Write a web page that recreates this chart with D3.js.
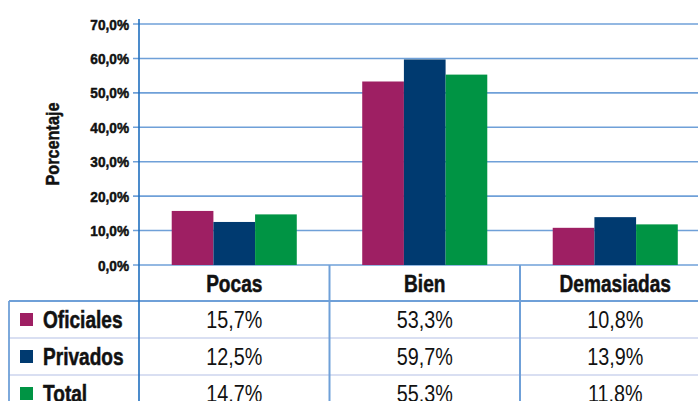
<!DOCTYPE html>
<html>
<head>
<meta charset="utf-8">
<script src="https://cdn.jsdelivr.net/npm/d3@7"></script>
<style>
  body { margin: 0; background: #fff; }
  svg text { font-family: "Liberation Sans", Arial, Helvetica, sans-serif; fill: #111; }
  svg text.heavy { font-weight: bold; stroke: #111; stroke-width: 0.5px; }
</style>
</head>
<body>
<svg id="chart" width="698" height="401"></svg>
<script>
// data
const categories = ["Pocas", "Bien", "Demasiadas"];
const series = ["Oficiales", "Privados", "Total"];
const oficiales = [15.7, 53.3, 10.8];
const privados = [12.5, 59.7, 13.9];
const total = [14.7, 55.3, 11.8];
const seriesColors = ["#9e1f63", "#003a70", "#009444"];
const yTicks = [0, 10, 20, 30, 40, 50, 60, 70];
const yTitle = "Porcentaje";

const values = { Oficiales: oficiales, Privados: privados, Total: total };

const svg = d3.select("#chart");
const W = 698, H = 401;

const locale = d3.formatLocale({ decimal: ",", thousands: ".", grouping: [3], currency: ["", "€"] });
const fmt = d => locale.format(".1f")(d) + "%";

// no condensed font installed, so squeeze text horizontally
const squeeze = (sx) => (sel, fx, fy) => sel
  .attr("transform", (d, i) => `translate(${fx(d, i)},${fy(d, i)}) scale(${sx},1)`);

const y = d3.scaleLinear().domain([0, 70]).range([265, 24]);
const x = d3.scaleBand().domain(categories).range([139, 139 + 3 * 190.5]).paddingInner(0).paddingOuter(0);
const x1 = d3.scaleBand().domain(series).range([0, x.bandwidth()]).paddingInner(0).paddingOuter(0.785);
const color = d3.scaleOrdinal().domain(series).range(seriesColors);

const gridColor = "#6fa0d8";
const axisColor = "#1f6fbf";

// gridlines + ticks
svg.append("g").selectAll("line")
  .data(yTicks)
  .join("line")
  .attr("x1", 133).attr("x2", W)
  .attr("y1", d => y(d)).attr("y2", d => y(d))
  .attr("stroke", gridColor).attr("stroke-width", 1.6);

// tick labels
svg.append("g").selectAll("text")
  .data(yTicks)
  .join("text")
  .attr("class", "heavy")
  .call(squeeze(0.88), () => 129, d => y(d))
  .attr("dy", "0.36em")
  .attr("text-anchor", "end")
  .style("font-size", "15.5px")
  .text(d => fmt(d));

// y title
svg.append("text")
  .attr("class", "heavy")
  .attr("transform", `translate(59, ${144}) rotate(-90) scale(0.93,1)`)
  .attr("text-anchor", "middle")
  .style("font-size", "17.5px")
  .text(yTitle);

// bars
const groups = svg.append("g").selectAll("g")
  .data(categories)
  .join("g")
  .attr("transform", d => `translate(${x(d)},0)`);

groups.selectAll("rect")
  .data((c, i) => series.map(s => ({ s, v: values[s][i] })))
  .join("rect")
  .attr("x", d => x1(d.s))
  .attr("width", x1.bandwidth())
  .attr("y", d => y(d.v))
  .attr("height", d => y(0) - y(d.v))
  .attr("fill", d => color(d.s));

// table
const rowTop = 301, rowH = 37;
const tbl = svg.append("g");

// row separators
tbl.selectAll("line.sep")
  .data([1, 2])
  .join("line")
  .attr("class", "sep")
  .attr("x1", 9).attr("x2", W)
  .attr("y1", d => rowTop + d * rowH).attr("y2", d => rowTop + d * rowH)
  .attr("stroke", "#cdd5ee").attr("stroke-width", 1.6);

// table top border
tbl.append("line")
  .attr("x1", 9).attr("x2", W).attr("y1", rowTop).attr("y2", rowTop)
  .attr("stroke", gridColor).attr("stroke-width", 1.8);

// left border
tbl.append("line")
  .attr("x1", 9).attr("x2", 9).attr("y1", rowTop).attr("y2", H)
  .attr("stroke", gridColor).attr("stroke-width", 1.8);

// category dividers
tbl.selectAll("line.div")
  .data(categories.slice(1))
  .join("line")
  .attr("class", "div")
  .attr("x1", d => x(d)).attr("x2", d => x(d))
  .attr("y1", y(0)).attr("y2", H)
  .attr("stroke", gridColor).attr("stroke-width", 2);

// y axis line (runs down through the table)
svg.append("line")
  .attr("x1", 139).attr("x2", 139).attr("y1", 19).attr("y2", H)
  .attr("stroke", axisColor).attr("stroke-width", 1.6);

// header labels
tbl.selectAll("text.head")
  .data(categories)
  .join("text")
  .attr("class", "head heavy")
  .call(squeeze(0.83), d => x(d) + x.bandwidth() / 2, () => 292)
  .attr("text-anchor", "middle")
  .style("font-size", "23px")
  .text(d => d);

// rows
const rows = tbl.selectAll("g.row")
  .data(series)
  .join("g")
  .attr("class", "row")
  .attr("transform", (d, i) => `translate(0, ${rowTop + i * rowH})`);

rows.append("rect")
  .attr("x", 20).attr("y", 12)
  .attr("width", 13).attr("height", 13)
  .attr("fill", d => color(d));

rows.append("text")
  .attr("class", "heavy")
  .call(squeeze(0.83), () => 43, () => 27)
  .style("font-size", "23px")
  .text(d => d);

rows.selectAll("text.val")
  .data(s => categories.map((c, i) => ({ c, v: values[s][i] })))
  .join("text")
  .attr("class", "val")
  .call(squeeze(0.86), d => x(d.c) + x.bandwidth() / 2, () => 27)
  .attr("text-anchor", "middle")
  .style("font-size", "23px")
  .text(d => fmt(d.v));
</script>
</body>
</html>
